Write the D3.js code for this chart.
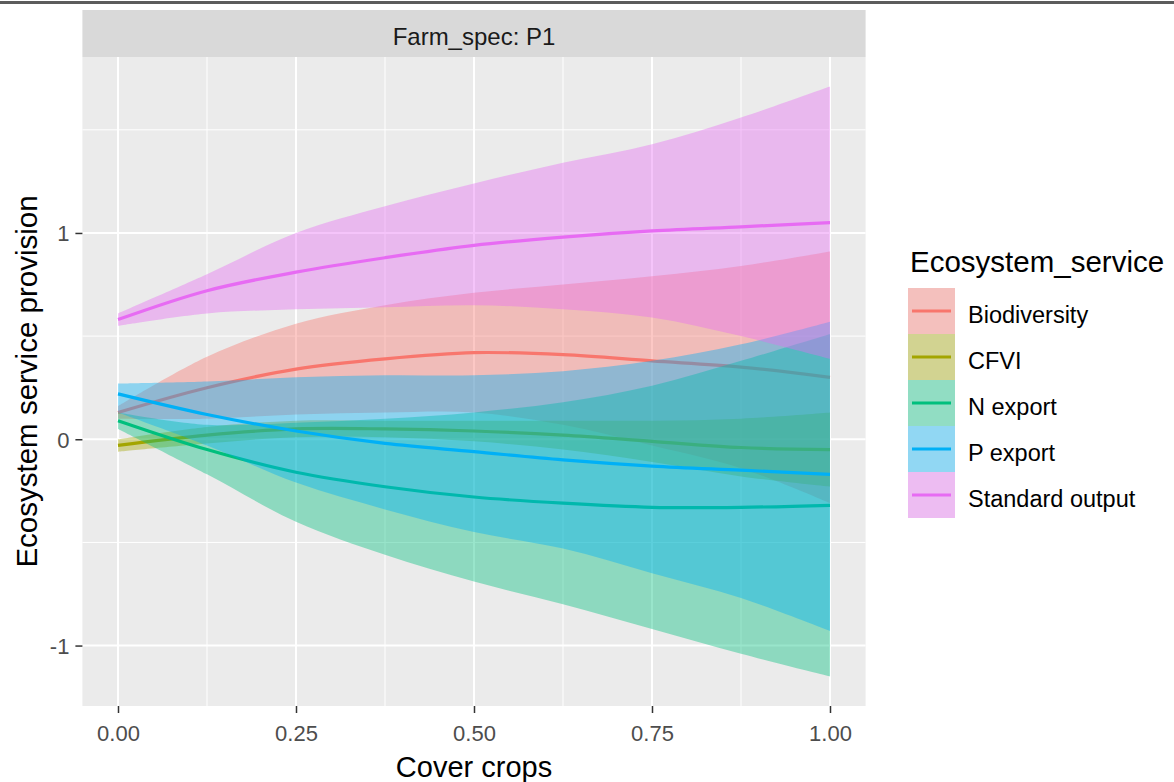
<!DOCTYPE html>
<html>
<head>
<meta charset="utf-8">
<script src="https://cdn.jsdelivr.net/npm/d3@7"></script>
<style>
  body { margin: 0; background: #fff; }
  svg { display: block; font-family: "Liberation Sans", Arial, sans-serif; }
</style>
</head>
<body>
<svg id="chart" width="1174" height="782"></svg>
<script>
// values
const xValues = [0, 0.125, 0.25, 0.375, 0.5, 0.625, 0.75, 0.875, 1];

const services = ["Biodiversity", "CFVI", "N export", "P export", "Standard output"];
const serviceColors = ["#F8766D", "#A3A500", "#00BF7D", "#00B0F6", "#E76BF3"];

const bioFit = [0.13, 0.25, 0.34, 0.39, 0.42, 0.41, 0.38, 0.35, 0.30];
const bioLower = [0.10, 0.10, 0.12, 0.13, 0.13, 0.07, -0.03, -0.14, -0.31];
const bioUpper = [0.16, 0.40, 0.56, 0.65, 0.71, 0.75, 0.79, 0.84, 0.91];

const cfviFit = [-0.03, 0.02, 0.05, 0.05, 0.04, 0.02, -0.01, -0.04, -0.05];
const cfviLower = [-0.06, -0.02, 0.01, 0.01, -0.01, -0.05, -0.11, -0.18, -0.23];
const cfviUpper = [0.00, 0.06, 0.09, 0.09, 0.09, 0.09, 0.09, 0.10, 0.13];

const nFit = [0.09, -0.05, -0.16, -0.23, -0.28, -0.31, -0.33, -0.33, -0.32];
const nLower = [0.05, -0.17, -0.40, -0.56, -0.69, -0.80, -0.92, -1.04, -1.15];
const nUpper = [0.13, 0.07, 0.08, 0.10, 0.13, 0.18, 0.26, 0.38, 0.51];

const pFit = [0.22, 0.12, 0.04, -0.02, -0.06, -0.10, -0.13, -0.15, -0.17];
const pLower = [0.13, -0.03, -0.21, -0.34, -0.45, -0.53, -0.65, -0.77, -0.93];
const pUpper = [0.27, 0.28, 0.30, 0.31, 0.31, 0.33, 0.38, 0.46, 0.57];

const soFit = [0.58, 0.72, 0.81, 0.88, 0.94, 0.98, 1.01, 1.03, 1.05];
const soLower = [0.55, 0.61, 0.63, 0.64, 0.65, 0.63, 0.59, 0.50, 0.39];
const soUpper = [0.61, 0.80, 1.00, 1.13, 1.24, 1.34, 1.43, 1.56, 1.71];

const xTicks = [0, 0.25, 0.5, 0.75, 1];
const xTickLabels = ["0.00", "0.25", "0.50", "0.75", "1.00"];
const xMinor = [0.125, 0.375, 0.625, 0.875];
const yTicks = [-1, 0, 1];
const yTickLabels = ["-1", "0", "1"];
const yMinor = [-0.5, 0.5, 1.5];

const fits = [bioFit, cfviFit, nFit, pFit, soFit];
const lowers = [bioLower, cfviLower, nLower, pLower, soLower];
const uppers = [bioUpper, cfviUpper, nUpper, pUpper, soUpper];

const series = services.map((name, i) => ({
  name: name,
  color: serviceColors[i],
  points: xValues.map((x, j) => ({ x: x, fit: fits[i][j], lo: lowers[i][j], hi: uppers[i][j] }))
}));

const panel = { left: 82.4, right: 865.6, top: 57, bottom: 706 };

const svg = d3.select("#chart");

// stray rule across the very top of the screenshot
svg.append("rect").attr("x", 0).attr("y", 1).attr("width", 1174).attr("height", 3).attr("fill", "#5c5c5c");

// ggplot style 5% expansion
const xExt = d3.extent(xValues);
const xPad = (xExt[1] - xExt[0]) * 0.05;
const x = d3.scaleLinear().domain([xExt[0] - xPad, xExt[1] + xPad]).range([panel.left, panel.right]);

const yMin = d3.min(lowers.flat());
const yMax = d3.max(uppers.flat());
const yPad = (yMax - yMin) * 0.05;
const y = d3.scaleLinear().domain([yMin - yPad, yMax + yPad]).range([panel.bottom, panel.top]);

// strip
svg.append("rect")
  .attr("x", panel.left).attr("y", 10)
  .attr("width", panel.right - panel.left).attr("height", panel.top - 10)
  .attr("fill", "#D9D9D9");
svg.append("text")
  .attr("x", (panel.left + panel.right) / 2).attr("y", 45)
  .attr("text-anchor", "middle")
  .attr("font-size", 24).attr("fill", "#1A1A1A")
  .text("Farm_spec: P1");

// panel background + grid
svg.append("rect")
  .attr("x", panel.left).attr("y", panel.top)
  .attr("width", panel.right - panel.left).attr("height", panel.bottom - panel.top)
  .attr("fill", "#EBEBEB");

const grid = svg.append("g");
grid.selectAll(".xminor").data(xMinor).enter().append("line")
  .attr("x1", d => x(d)).attr("x2", d => x(d))
  .attr("y1", panel.top).attr("y2", panel.bottom)
  .attr("stroke", "#fff").attr("stroke-width", 1);
grid.selectAll(".yminor").data(yMinor).enter().append("line")
  .attr("y1", d => y(d)).attr("y2", d => y(d))
  .attr("x1", panel.left).attr("x2", panel.right)
  .attr("stroke", "#fff").attr("stroke-width", 1);
grid.selectAll(".xmajor").data(xTicks).enter().append("line")
  .attr("x1", d => x(d)).attr("x2", d => x(d))
  .attr("y1", panel.top).attr("y2", panel.bottom)
  .attr("stroke", "#fff").attr("stroke-width", 2);
grid.selectAll(".ymajor").data(yTicks).enter().append("line")
  .attr("y1", d => y(d)).attr("y2", d => y(d))
  .attr("x1", panel.left).attr("x2", panel.right)
  .attr("stroke", "#fff").attr("stroke-width", 2);

// ribbons and lines, drawn group by group like geom_smooth
const area = d3.area()
  .x(d => x(d.x))
  .y0(d => y(d.lo))
  .y1(d => y(d.hi))
  .curve(d3.curveCatmullRom);
const line = d3.line()
  .x(d => x(d.x))
  .y(d => y(d.fit))
  .curve(d3.curveCatmullRom);

const marks = svg.append("g");
series.forEach(s => {
  marks.append("path")
    .datum(s.points)
    .attr("d", area)
    .attr("fill", s.color)
    .attr("fill-opacity", 0.4);
  marks.append("path")
    .datum(s.points)
    .attr("d", line)
    .attr("fill", "none")
    .attr("stroke", s.color)
    .attr("stroke-width", 3.2);
});

// axes
const xAxis = svg.append("g")
  .attr("transform", `translate(0,${panel.bottom})`)
  .call(d3.axisBottom(x).tickValues(xTicks).tickFormat((d, i) => xTickLabels[i]).tickSize(7).tickPadding(12));
const yAxis = svg.append("g")
  .attr("transform", `translate(${panel.left},0)`)
  .call(d3.axisLeft(y).tickValues(yTicks).tickFormat((d, i) => yTickLabels[i]).tickSize(7).tickPadding(6));

[xAxis, yAxis].forEach(a => {
  a.select(".domain").remove();
  a.selectAll(".tick line").attr("stroke", "#333").attr("stroke-width", 1.5);
  a.selectAll(".tick text")
    .attr("fill", "#4D4D4D")
    .attr("font-size", 22)
    .attr("font-family", "Liberation Sans, Arial, sans-serif");
});
yAxis.selectAll(".tick text").attr("dy", "0.36em");

svg.append("text")
  .attr("x", (panel.left + panel.right) / 2).attr("y", 777)
  .attr("text-anchor", "middle")
  .attr("font-size", 29).attr("fill", "#000")
  .text("Cover crops");
svg.append("text")
  .attr("transform", `translate(37,${(panel.top + panel.bottom) / 2}) rotate(-90)`)
  .attr("text-anchor", "middle")
  .attr("font-size", 29.5).attr("fill", "#000")
  .text("Ecosystem service provision");

// legend
const legend = svg.append("g").attr("transform", "translate(908,0)");
legend.append("text")
  .attr("x", 2).attr("y", 272)
  .attr("font-size", 29.5).attr("fill", "#000")
  .text("Ecosystem_service");

const keyH = 46, keyW = 47, keyTop = 288;
const items = legend.selectAll(".key").data(series).enter().append("g")
  .attr("transform", (d, i) => `translate(0,${keyTop + i * keyH})`);
items.append("rect")
  .attr("width", keyW).attr("height", keyH)
  .attr("fill", "#F2F2F2");
items.append("rect")
  .attr("width", keyW).attr("height", keyH)
  .attr("fill", d => d.color).attr("fill-opacity", 0.4);
items.append("line")
  .attr("x1", 4).attr("x2", keyW - 4)
  .attr("y1", keyH / 2).attr("y2", keyH / 2)
  .attr("stroke", d => d.color).attr("stroke-width", 3.2);
items.append("text")
  .attr("x", 60).attr("y", keyH / 2 + 4)
  .attr("dy", "0.36em")
  .attr("font-size", 23.5).attr("fill", "#000")
  .text(d => d.name);
</script>
</body>
</html>
